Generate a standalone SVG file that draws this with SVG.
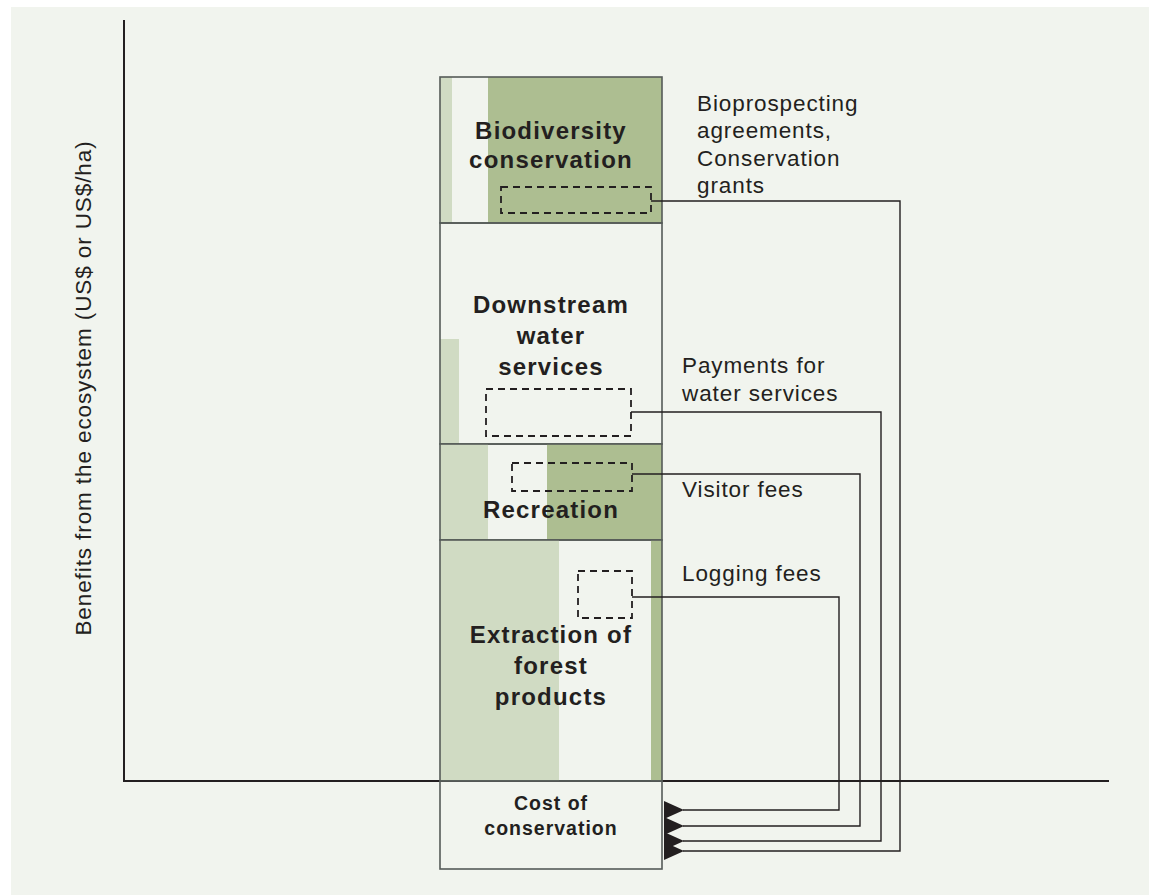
<svg xmlns="http://www.w3.org/2000/svg" width="1149" height="895" viewBox="0 0 1149 895">
<defs>
<style>
.lt{fill:#d0dbc3}
.dk{fill:#adbe91}
.box{fill:none;stroke:#555b58;stroke-width:1.6}
.dash{fill:none;stroke:#231f20;stroke-width:1.8;stroke-dasharray:7,5}
.con{fill:none;stroke:#231f20;stroke-width:1.4}
.ax{stroke:#231f20;stroke-width:2}
.bt{font-family:"Liberation Sans",Arial,sans-serif;font-weight:bold;font-size:24px;letter-spacing:1.2px;fill:#231f20;text-anchor:middle}
.ct{font-size:19.5px;letter-spacing:1px}
.lb{font-family:"Liberation Sans",Arial,sans-serif;font-size:22.5px;letter-spacing:0.9px;fill:#231f20}
</style>
<marker id="ah" markerWidth="20" markerHeight="18" viewBox="0 0 20 18" refX="1" refY="9" orient="auto" markerUnits="userSpaceOnUse">
<path d="M20,0 L0,9 L20,18 Z" fill="#231f20"/>
</marker>
</defs>
<rect x="0" y="0" width="1149" height="895" fill="#ffffff"/>
<rect x="11" y="7" width="1138" height="888" fill="#f1f4ee"/>
<g id="axes">
<line class="ax" x1="124" y1="20" x2="124" y2="781"/>
<line class="ax" x1="123" y1="781" x2="1109" y2="781"/>
<text class="lb" transform="translate(91,388) rotate(-90)" text-anchor="middle">Benefits from the ecosystem (US$ or US$/ha)</text>
</g>
<g id="biodiversity">
<rect class="lt" x="440" y="77" width="12" height="146"/>
<rect class="dk" x="488" y="77" width="174" height="146"/>
<rect class="box" x="440" y="77" width="222" height="146"/>
<text class="bt" x="551" y="139">Biodiversity</text>
<text class="bt" x="551" y="168">conservation</text>
<rect class="dash" x="501" y="187" width="150" height="26"/>
</g>
<g id="water">
<rect class="lt" x="440" y="339" width="19" height="105"/>
<rect class="box" x="440" y="223" width="222" height="221"/>
<text class="bt" x="551" y="313">Downstream</text>
<text class="bt" x="551" y="344">water</text>
<text class="bt" x="551" y="375">services</text>
<rect class="dash" x="486" y="389" width="145" height="47"/>
</g>
<g id="recreation">
<rect class="lt" x="440" y="444" width="48" height="96"/>
<rect class="dk" x="547" y="444" width="115" height="96"/>
<rect class="box" x="440" y="444" width="222" height="96"/>
<text class="bt" x="551" y="518">Recreation</text>
<rect class="dash" x="512" y="463" width="120" height="28"/>
</g>
<g id="extraction">
<rect class="lt" x="440" y="540" width="119" height="241"/>
<rect class="dk" x="651" y="540" width="11" height="241"/>
<rect class="box" x="440" y="540" width="222" height="241"/>
<text class="bt" x="551" y="643">Extraction of</text>
<text class="bt" x="551" y="674">forest</text>
<text class="bt" x="551" y="705">products</text>
<rect class="dash" x="578" y="571" width="54" height="47"/>
</g>
<g id="cost">
<rect class="box" x="440" y="781" width="222" height="88"/>
<text class="bt ct" x="551" y="810">Cost of</text>
<text class="bt ct" x="551" y="835">conservation</text>
</g>
<g id="labels">
<text class="lb" x="697" y="111">Bioprospecting</text>
<text class="lb" x="697" y="138">agreements,</text>
<text class="lb" x="697" y="166">Conservation</text>
<text class="lb" x="697" y="193">grants</text>
<text class="lb" x="682" y="373">Payments for</text>
<text class="lb" x="682" y="401">water services</text>
<text class="lb" x="682" y="497">Visitor fees</text>
<text class="lb" x="682" y="581">Logging fees</text>
</g>
<g id="connectors">
<polyline class="con" points="651,201 900,201 900,851 683,851" marker-end="url(#ah)"/>
<polyline class="con" points="631,412 881,412 881,841 683,841" marker-end="url(#ah)"/>
<polyline class="con" points="632,474 860,474 860,826 683,826" marker-end="url(#ah)"/>
<polyline class="con" points="632,597 839,597 839,810 683,810" marker-end="url(#ah)"/>
</g>
</svg>
